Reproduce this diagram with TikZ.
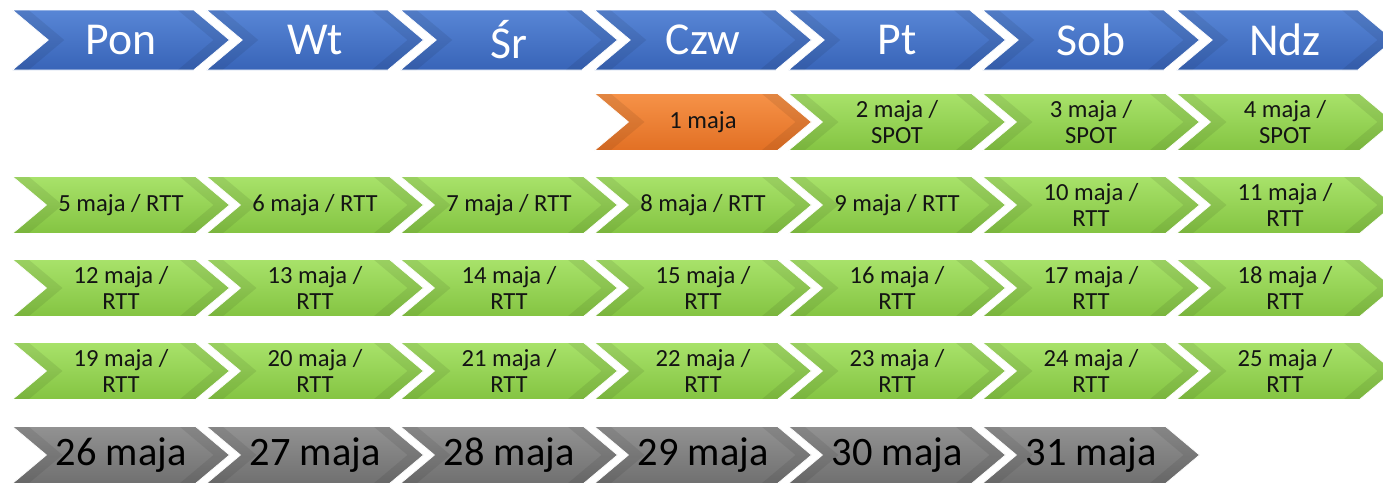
\documentclass[tikz,border=0pt]{standalone}
\usepackage{fontspec}
\setmainfont{Carlito}
\usetikzlibrary{shapes.symbols,calc}

\definecolor{bluetop}{RGB}{88,134,214}
\definecolor{bluebot}{RGB}{56,100,184}
\definecolor{greentop}{RGB}{168,226,106}
\definecolor{greenbot}{RGB}{132,196,66}
\definecolor{orangetop}{RGB}{246,146,72}
\definecolor{orangebot}{RGB}{226,112,36}
\definecolor{graytop}{RGB}{146,146,146}
\definecolor{graybot}{RGB}{112,112,112}
\definecolor{datetext}{RGB}{20,20,20}

\tikzset{
  chev/.style={signal, signal from=west, signal to=east, signal pointer angle=80,
    minimum width=4.34cm, minimum height=1.14cm, inner sep=0pt, align=center,
    draw=white, line width=0.4pt,
    path picture={
      \path let \p1=(path picture bounding box.north west),
                \p2=(path picture bounding box.south east),
                \n1={(\y1-\y2)/2/tan(40)}, \n2={0.32cm}, \n3={(\y1+\y2)/2} in
        % notch facet
        [fill=white, fill opacity=0.22]
        (\x1,\y1) -- (\x1+\n1,\n3) -- (\x1,\y2) -- (\x1+\n2,\y2)
          -- (\x1+\n1+\n2,\n3) -- (\x1+\n2,\y1) -- cycle
        % tip facets
        [fill=white, fill opacity=0.18]
        (\x2-\n1-\n2,\y1) -- (\x2-\n1,\y1) -- (\x2,\n3) -- (\x2-\n2,\n3) -- cycle
        [fill=black, fill opacity=0.08]
        (\x2-\n1-\n2,\y2) -- (\x2-\n1,\y2) -- (\x2,\n3) -- (\x2-\n2,\n3) -- cycle;
    }},
  daychev/.style={chev, minimum height=1.2cm, top color=bluetop, bottom color=bluebot,
    text=white, font=\fontsize{26}{28}\selectfont},
  freechev/.style={chev, top color=orangetop, bottom color=orangebot,
    text=datetext, font=\fontsize{14}{14.5}\selectfont},
  workchev/.style={chev, top color=greentop, bottom color=greenbot,
    text=datetext, font=\fontsize{14}{14.5}\selectfont},
  endchev/.style={chev, top color=graytop, bottom color=graybot,
    text=black, font=\fontsize{23}{25}\selectfont}
}

\begin{document}
\begin{tikzpicture}
% Parameters
\def\xzero{2.42} \def\xstep{3.88}
\def\yday{-0.80}
\def\yzero{-2.44} \def\ystep{1.66}

\useasboundingbox (0,0) rectangle (27.66,-9.64);

% Days of the week
\foreach \d [count=\i from 0] in {Pon,Wt,Śr,Czw,Pt,Sob,Ndz}
  \node[daychev] (d\i) at (\xzero+\i*\xstep,\yday) {\d};

% 1 May
\node[freechev] (m1) at (\xzero+3*\xstep,\yzero) {1 maja};

% Long weekend
\foreach \n in {2,3,4} {
  \pgfmathtruncatemacro{\col}{mod(\n+2,7)}
  \node[workchev] (m\n) at (\xzero+\col*\xstep,\yzero) {\n{} maja /\\SPOT};
}

% One line labels
\foreach \n in {5,...,9} {
  \pgfmathtruncatemacro{\col}{mod(\n+2,7)}
  \node[workchev] (m\n) at (\xzero+\col*\xstep,\yzero-\ystep) {\n{} maja / RTT};
}

% Two line labels
\foreach \n in {10,...,25} {
  \pgfmathtruncatemacro{\col}{mod(\n+2,7)}
  \pgfmathtruncatemacro{\row}{div(\n+2,7)}
  \node[workchev] (m\n) at (\xzero+\col*\xstep,\yzero-\row*\ystep) {\n{} maja /\\RTT};
}

% End of month
\foreach \n in {26,...,31} {
  \pgfmathtruncatemacro{\col}{mod(\n+2,7)}
  \node[endchev] (m\n) at (\xzero+\col*\xstep,-9.10) {\n{} maja};
}
\end{tikzpicture}
\end{document}
